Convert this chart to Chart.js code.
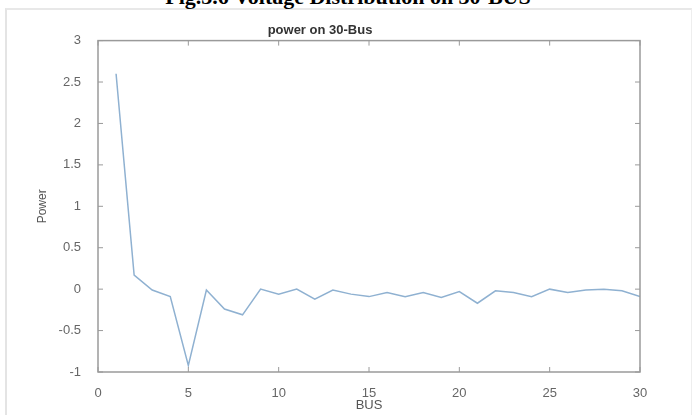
<!DOCTYPE html>
<html>
<head>
<meta charset="utf-8">
<script src="https://cdn.jsdelivr.net/npm/chart.js@4"></script>
<style>
  html, body { margin: 0; padding: 0; background: #fff; }
  #wrap { position: relative; width: 696px; height: 415px; overflow: hidden; }
  #frame {
    position: absolute; left: 5px; top: 8px; width: 684px; height: 420px;
    border-left: 2px solid #e4e4e4; border-top: 2px solid #e8e8e8; border-right: 1px solid #eee;
  }
  #caption {
    position: absolute; left: 0; top: -14px; width: 696px; text-align: center;
    font: bold 22px/22px "Liberation Serif", "Times New Roman", serif; color: #000;
  }
  canvas { position: absolute; left: 0; top: 0; }
</style>
</head>
<body>
<div id="wrap">
  <div id="frame"></div>
  <div id="caption">Fig.3.6 Voltage Distribution on 30-BUS</div>
  <canvas id="chart" width="696" height="415"></canvas>
</div>
<script>
// bus numbers 1..30 and power
const buses = [1, 2, 3, 4, 5, 6, 7, 8, 9, 10, 11, 12, 13, 14, 15,
               16, 17, 18, 19, 20, 21, 22, 23, 24, 25, 26, 27, 28, 29, 30];
const power = [2.6, 0.17, -0.01, -0.09, -0.92, -0.01, -0.24, -0.31, 0.0, -0.06,
               0.0, -0.12, -0.01, -0.06, -0.09, -0.04, -0.09, -0.04, -0.1, -0.03,
               -0.17, -0.02, -0.04, -0.09, 0.0, -0.04, -0.01, 0.0, -0.02, -0.09];
const xTicks = [0, 5, 10, 15, 20, 25, 30];
const yTicks = [-1, -0.5, 0, 0.5, 1, 1.5, 2, 2.5, 3];

const axisGrey = '#9a9a9a';
const sans = "'Liberation Sans', Arial, sans-serif";

// matlab style box with inward ticks on all four sides
const boxPlugin = {
  id: 'matlabBox',
  afterDraw(chart) {
    const { ctx, chartArea: a, scales: { x, y } } = chart;
    const len = 5;
    ctx.save();
    ctx.strokeStyle = axisGrey;
    ctx.lineWidth = 1.5;
    ctx.strokeRect(a.left, a.top, a.right - a.left, a.bottom - a.top);
    ctx.lineWidth = 1;
    ctx.beginPath();
    xTicks.forEach(v => {
      const px = x.getPixelForValue(v);
      ctx.moveTo(px, a.bottom); ctx.lineTo(px, a.bottom - len);
      ctx.moveTo(px, a.top); ctx.lineTo(px, a.top + len);
    });
    yTicks.forEach(v => {
      const py = y.getPixelForValue(v);
      ctx.moveTo(a.left, py); ctx.lineTo(a.left + len, py);
      ctx.moveTo(a.right, py); ctx.lineTo(a.right - len, py);
    });
    ctx.stroke();
    ctx.restore();
  }
};

new Chart(document.getElementById('chart'), {
  type: 'line',
  data: {
    labels: buses,
    datasets: [{
      data: buses.map((b, i) => ({ x: b, y: power[i] })),
      borderColor: '#8fb1d1',
      borderWidth: 1.5,
      pointRadius: 0,
      tension: 0,
      fill: false
    }]
  },
  options: {
    responsive: false,
    animation: false,
    layout: { padding: { left: 0, right: 56, top: 0, bottom: 0 } },
    plugins: {
      legend: { display: false },
      tooltip: { enabled: false },
      title: {
        display: true,
        text: 'power on 30-Bus',
        color: '#333',
        font: { family: sans, size: 13, weight: 'bold' },
        padding: { top: 23, bottom: 2 }
      }
    },
    scales: {
      x: {
        type: 'linear',
        min: 0, max: 30,
        afterBuildTicks: s => { s.ticks = xTicks.map(v => ({ value: v })); },
        afterFit: s => { s.height = 43; },
        grid: { display: false },
        border: { display: false },
        ticks: {
          color: '#666', padding: 6,
          font: { family: sans, size: 13 },
          callback: v => String(v)
        },
        title: {
          display: true, text: 'BUS', color: '#555',
          font: { family: sans, size: 13 },
          padding: { top: 0, bottom: 2 }
        }
      },
      y: {
        min: -1, max: 3,
        afterBuildTicks: s => { s.ticks = yTicks.map(v => ({ value: v })); },
        afterFit: s => { s.width = 98; },
        grid: { display: false },
        border: { display: false },
        ticks: {
          color: '#666', padding: 9,
          font: { family: sans, size: 13 },
          callback: v => String(v)
        },
        title: {
          display: true, text: 'Power', color: '#555',
          font: { family: sans, size: 12 },
          padding: { top: 35, bottom: 0 }
        }
      }
    }
  },
  plugins: [boxPlugin]
});
</script>
</body>
</html>
